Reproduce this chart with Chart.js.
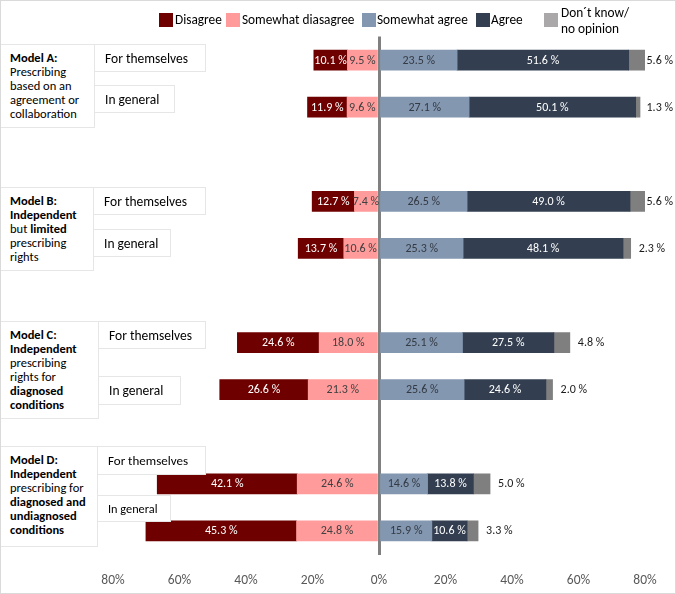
<!DOCTYPE html>
<html>
<head>
<meta charset="utf-8">
<script src="https://cdn.jsdelivr.net/npm/chart.js"></script>
<style>
  body { margin: 0; background: #fff; font-family: Carlito, Lato, sans-serif; color: #000; }
  #wrap { position: relative; width: 676px; height: 594px; overflow: hidden; }
  #chart { position: absolute; left: 0; top: 0; }
  #frame { position: absolute; left: 0; top: 0; width: 676px; height: 594px; box-sizing: border-box;
           border: 1px solid #dadada; pointer-events: none; }
  .box { position: absolute; box-sizing: border-box; border: 1.5px solid #e6e6e6; background: #fff; white-space: nowrap; }
  .model { font-size: 12.5px; line-height: 14px; padding: 6px 0 0 10px; }
  .sub { font-size: 13.5px; display: flex; align-items: center; padding-left: 10px; }
  .leg { position: absolute; font-size: 13.3px; line-height: 16px; color: #000; white-space: nowrap; }
  .sw { position: absolute; width: 14px; height: 14px; }
</style>
</head>
<body>
<div id="wrap">
  <canvas id="chart" width="676" height="594"></canvas>

  <!-- legend -->
  <div class="sw" style="left:159px;top:13px;background:#6e0000"></div>
  <div class="leg" style="left:175px;top:12px">Disagree</div>
  <div class="sw" style="left:226px;top:13px;background:#ff9b9b"></div>
  <div class="leg" style="left:242px;top:12px">Somewhat diasagree</div>
  <div class="sw" style="left:362px;top:13px;background:#8497b0"></div>
  <div class="leg" style="left:377px;top:12px">Somewhat agree</div>
  <div class="sw" style="left:476px;top:13px;background:#333f50"></div>
  <div class="leg" style="left:491px;top:12px">Agree</div>
  <div class="sw" style="left:544px;top:13px;background:#aaa8a8"></div>
  <div class="leg" style="left:561px;top:5px">Don´t know/<br>no opinion</div>

  <!-- row labels -->
  <div class="box model" style="left:-1px;top:44px;width:96px;height:84px"><b>Model A:</b><br>Prescribing<br>based on an<br>agreement or<br>collaboration</div>
  <div class="box sub" style="left:94px;top:44px;width:112px;height:28px">For themselves</div>
  <div class="box sub" style="left:94px;top:85px;width:81px;height:28px">In general</div>

  <div class="box model" style="left:-1px;top:187px;width:95px;height:84px"><b>Model B:</b><br><b>Independent</b><br>but <b>limited</b><br>prescribing<br>rights</div>
  <div class="box sub" style="left:93px;top:187px;width:113px;height:28px">For themselves</div>
  <div class="box sub" style="left:93px;top:229px;width:78px;height:28px">In general</div>

  <div class="box model" style="left:-1px;top:321px;width:100px;height:98px"><b>Model C:</b><br><b>Independent</b><br>prescribing<br>rights for<br><b>diagnosed</b><br><b>conditions</b></div>
  <div class="box sub" style="left:98px;top:321px;width:108px;height:28px">For themselves</div>
  <div class="box sub" style="left:98px;top:376px;width:83px;height:29px">In general</div>

  <div class="box model" style="left:-1px;top:446px;width:99px;height:101px"><b>Model D:</b><br><b>Independent</b><br>prescribing for<br><b>diagnosed and</b><br><b>undiagnosed</b><br><b>conditions</b></div>
  <div class="box sub" style="left:97px;top:446px;width:109px;height:29px;font-size:13px">For themselves</div>
  <div class="box sub" style="left:97px;top:495px;width:74px;height:27px;font-size:12.3px">In general</div>

  <div id="frame"></div>
</div>

<script>
// rows (empty rows are the gaps between models)
const rows = ['A: For themselves', 'A: In general', '',
              'B: For themselves', 'B: In general', ' ',
              'C: For themselves', 'C: In general', '  ',
              'D: For themselves', 'D: In general'];

const disagree         = [10.1, 11.9, null, 12.7, 13.7, null, 24.6, 26.6, null, 42.1, 45.3];
const somewhatDisagree = [ 9.5,  9.6, null,  7.4, 10.6, null, 18.0, 21.3, null, 24.6, 24.8];
const somewhatAgree    = [23.5, 27.1, null, 26.5, 25.3, null, 25.1, 25.6, null, 14.6, 15.9];
const agree            = [51.6, 50.1, null, 49.0, 48.1, null, 27.5, 24.6, null, 13.8, 10.6];
const dontKnow         = [ 5.6,  1.3, null,  5.6,  2.3, null,  4.8,  2.0, null,  5.0,  3.3];

const xTicks = [-80, -60, -40, -20, 0, 20, 40, 60, 80];

const neg = arr => arr.map(v => v == null ? null : -v);

const FONT = 'Carlito, Lato, sans-serif';

// value labels inside bars, "don't know" labels to the right
const barLabels = {
  id: 'barLabels',
  afterDatasetsDraw(chart) {
    const ctx = chart.ctx;
    ctx.save();
    ctx.font = '12px ' + FONT;
    ctx.textBaseline = 'middle';
    chart.data.datasets.forEach((ds, i) => {
      const meta = chart.getDatasetMeta(i);
      meta.data.forEach((bar, j) => {
        const v = ds.data[j];
        if (v == null) return;
        const txt = Math.abs(v).toFixed(1) + ' %';
        ctx.fillStyle = ds.labelColor;
        if (ds.outside) {
          ctx.textAlign = 'left';
          const w = ctx.measureText(txt).width;
          let x = Math.max(bar.x, bar.base) + 8;
          x = Math.min(x, chart.width - w - 3);
          ctx.fillText(txt, x, bar.y + 0.5);
        } else {
          ctx.textAlign = 'center';
          ctx.fillText(txt, (bar.x + bar.base) / 2, bar.y + 0.5);
        }
      });
    });
    ctx.restore();
  }
};

new Chart(document.getElementById('chart'), {
  type: 'bar',
  data: {
    labels: rows,
    datasets: [
      { label: 'Somewhat diasagree', data: neg(somewhatDisagree), backgroundColor: '#ff9b9b', labelColor: '#404040' },
      { label: 'Disagree', data: neg(disagree), backgroundColor: '#6e0000', labelColor: '#ffffff' },
      { label: 'Somewhat agree', data: somewhatAgree, backgroundColor: '#8497b0', labelColor: '#333a44' },
      { label: 'Agree', data: agree, backgroundColor: '#333f50', labelColor: '#ffffff' },
      { label: 'Don´t know/no opinion', data: dontKnow, backgroundColor: '#7f7f7f', labelColor: '#1a1a1a', outside: true }
    ]
  },
  options: {
    indexAxis: 'y',
    responsive: false,
    animation: false,
    maintainAspectRatio: false,
    datasets: { bar: { barThickness: 20 } },
    layout: { padding: { left: 113, right: 31, top: 36.5, bottom: 0 } },
    plugins: { legend: { display: false }, tooltip: { enabled: false } },
    scales: {
      x: {
        stacked: true,
        min: -80,
        max: 80,
        z: 1,
        afterBuildTicks: axis => { axis.ticks = xTicks.map(v => ({ value: v })); },
        afterFit: axis => { axis.height = 39.5; },
        ticks: {
          callback: v => Math.abs(v) + '%',
          color: '#595959',
          padding: 18,
          font: { family: FONT, size: 13.5 }
        },
        grid: {
          drawTicks: false,
          color: c => c.tick && c.tick.value === 0 ? '#808080' : 'rgba(0,0,0,0)',
          lineWidth: c => c.tick && c.tick.value === 0 ? 3 : 0
        },
        border: { display: false }
      },
      y: { stacked: true, display: false }
    }
  },
  plugins: [barLabels]
});
</script>
</body>
</html>
